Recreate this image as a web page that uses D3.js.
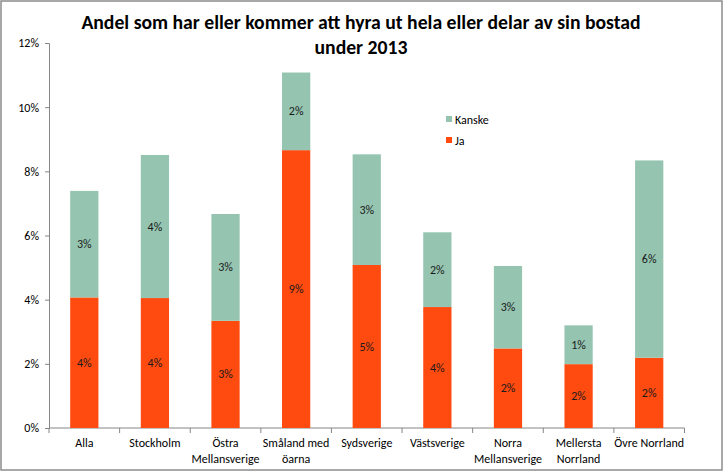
<!DOCTYPE html>
<html><head><meta charset="utf-8">
<script src="https://cdn.jsdelivr.net/npm/d3@7"></script>
<style>body{margin:0;background:#fff}svg{display:block}</style>
</head><body>
<script>
const categories = [["Alla"],["Stockholm"],["Östra","Mellansverige"],["Småland med","öarna"],["Sydsverige"],["Västsverige"],["Norra","Mellansverige"],["Mellersta","Norrland"],["Övre Norrland"]];
const ja =     [4.07, 4.05, 3.34, 8.66, 5.08, 3.77, 2.48, 1.99, 2.19];
const kanske = [3.32, 4.46, 3.33, 2.42, 3.45, 2.33, 2.57, 1.21, 6.15];
const yTicks = [0, 2, 4, 6, 8, 10, 12];
const titleLines = ["Andel som har eller kommer att hyra ut hela eller delar av sin bostad", "under 2013"];
const seriesNames = ["Ja", "Kanske"];

(function(){
const W = 725, H = 474;
const colJa = "#FF4A10", colK = "#95C5B0";
const font = "Carlito, 'Liberation Sans Narrow', 'Liberation Sans', sans-serif";
const svg = d3.select("body").append("svg").attr("width", W).attr("height", H);
svg.append("rect").attr("x",1).attr("y",1).attr("width",721).attr("height",469)
  .attr("fill","#fff").attr("stroke","#8c8c8c").attr("stroke-width",1.5);

const pl = 49, pr = 684.5, pt = 43, pb = 428;
const x = d3.scaleBand().domain(d3.range(categories.length)).range([pl, pr]).paddingInner(0.6).paddingOuter(0.3);
const y = d3.scaleLinear().domain([0, 12]).range([pb, pt]);

// title
svg.append("text").attr("x", 361).attr("y", 29).attr("text-anchor","middle")
  .style("font-family", font).style("font-weight","bold").style("font-size","19.7px").attr("fill","#000")
  .selectAll("tspan").data(titleLines).join("tspan").attr("x",361).attr("dy",(d,i)=>i?24.5:0).text(d=>d);

// y axis
const yAxis = d3.axisLeft(y).tickValues(yTicks).tickFormat(d => d + "%").tickSize(4).tickPadding(6);
const gy = svg.append("g").attr("transform", `translate(${pl},0)`).call(yAxis);
gy.selectAll("path,line").attr("stroke","#868686");
gy.selectAll("text").style("font-family", font).style("font-size","12px").attr("fill","#000");

// x axis
const gx = svg.append("g").attr("transform", `translate(0,${pb})`);
gx.append("line").attr("x1",pl).attr("x2",pr).attr("stroke","#868686");
const bounds = d3.range(categories.length + 1).map(i => pl + i * (pr-pl)/categories.length);
gx.selectAll("line.t").data(bounds).join("line").attr("class","t")
  .attr("x1",d=>d).attr("x2",d=>d).attr("y1",0).attr("y2",5).attr("stroke","#868686");
gx.selectAll("text.c").data(categories).join("text").attr("class","c")
  .attr("text-anchor","middle").style("font-family", font).style("font-size","12px").attr("fill","#000")
  .each(function(d,i){
    d3.select(this).selectAll("tspan").data(d).join("tspan")
      .attr("x", x(i)+x.bandwidth()/2).attr("y",(t,j)=>19+j*16).text(t=>t);
  });

// bars
const bw = x.bandwidth();
categories.forEach((c,i) => {
  const segs = [{v:ja[i], y0:0, col:colJa},{v:kanske[i], y0:ja[i], col:colK}];
  segs.forEach(s => {
    svg.append("rect").attr("x", x(i)).attr("width", bw)
      .attr("y", y(s.y0+s.v)).attr("height", y(s.y0)-y(s.y0+s.v)).attr("fill", s.col);
    svg.append("text").attr("x", x(i)+bw/2).attr("y", (y(s.y0)+y(s.y0+s.v))/2 + 4)
      .attr("text-anchor","middle").style("font-family", font).style("font-size","12px").attr("fill","#1a1a1a")
      .text(d3.format(".0f")(s.v) + "%");
  });
});

// legend
const leg = [{n:seriesNames[1], c:colK, y:120},{n:seriesNames[0], c:colJa, y:141}];
leg.forEach(l => {
  svg.append("rect").attr("x",446).attr("y",l.y-4).attr("width",6).attr("height",6).attr("fill",l.c);
  svg.append("text").attr("x",455).attr("y",l.y+4).style("font-family",font).style("font-size","12px").attr("fill","#000").text(l.n);
});
})();
</script>
</body></html>
